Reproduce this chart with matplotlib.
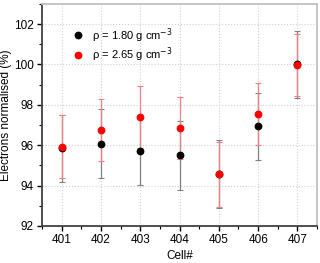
import matplotlib.pyplot as plt
from matplotlib.ticker import MultipleLocator

plt.rcParams['font.family'] = ['Liberation Sans', 'DejaVu Sans']

cells = [401, 402, 403, 404, 405, 406, 407]
rho_low = [95.84, 96.07, 95.70, 95.50, 94.57, 96.94, 100.0]
rho_low_err = [1.67, 1.72, 1.66, 1.71, 1.70, 1.65, 1.68]
rho_high = [95.93, 96.74, 97.39, 96.86, 94.56, 97.56, 99.98]
rho_high_err = [1.55, 1.54, 1.54, 1.52, 1.60, 1.54, 1.53]

fig = plt.figure(figsize=(3.2, 2.63), dpi=100)
ax = fig.add_axes([0.131, 0.141, 0.86, 0.844])

ax.errorbar(cells, rho_low, yerr=rho_low_err, fmt='none', ecolor='#808080',
            elinewidth=0.9, capsize=2, capthick=0.8, zorder=2)
ax.errorbar(cells, rho_high, yerr=rho_high_err, fmt='none', ecolor='#f08080',
            elinewidth=0.9, capsize=2, capthick=0.8, zorder=3)
ax.plot(cells, rho_low, 'o', color='black', ms=4.6, zorder=4,
        label='ρ = 1.80 g cm$^{-3}$')
ax.plot(cells, rho_high, 'o', color='red', ms=4.6, zorder=5,
        label='ρ = 2.65 g cm$^{-3}$')

ax.set_xlim(400.5, 407.5)
ax.set_ylim(92, 103)
ax.set_xticks(cells)
ax.xaxis.set_minor_locator(MultipleLocator(0.5))
ax.yaxis.set_major_locator(MultipleLocator(2))
ax.yaxis.set_minor_locator(MultipleLocator(1))
ax.grid(True, which='major', color='#d0d0d0', linestyle=':', linewidth=0.8)
ax.set_axisbelow(True)

ax.tick_params(which='major', direction='out', length=3.5, width=1, labelsize=8.5, pad=2.5)
ax.tick_params(which='minor', direction='out', length=2, width=0.8)
for s in ['left', 'bottom']:
    ax.spines[s].set_color('#404040')
    ax.spines[s].set_linewidth(1.3)
for s in ['right', 'top']:
    ax.spines[s].set_color('#c0c0c0')
    ax.spines[s].set_linewidth(1.3)

ax.set_xlabel('Cell#', fontsize=8.5, labelpad=3)
ax.set_ylabel('Electrons normalised (%)', fontsize=8.5, labelpad=1)

ax.legend(loc='upper left', bbox_to_anchor=(0.085, 0.92), frameon=False,
          fontsize=8, handletextpad=0.5, handlelength=1.5, borderaxespad=0,
          labelspacing=0.05)

fig.savefig('out.png', dpi=100)
